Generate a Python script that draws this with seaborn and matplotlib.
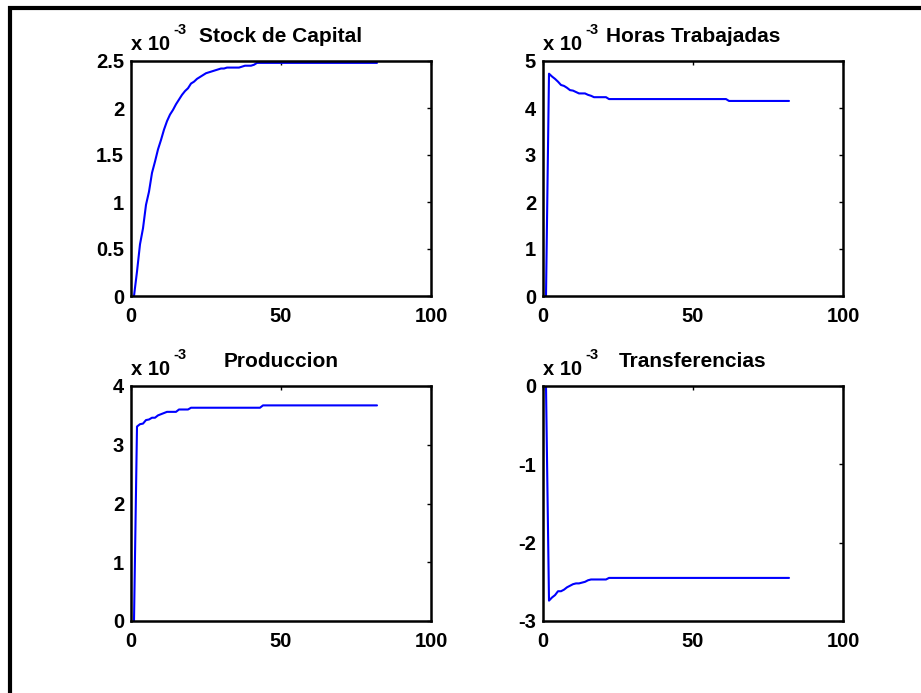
import numpy as np
import pandas as pd
import matplotlib
matplotlib.use("Agg")
import matplotlib.pyplot as plt
from matplotlib.lines import Line2D
import seaborn as sns

sns.set_style("white")
plt.rcParams["font.family"] = ["Liberation Sans", "DejaVu Sans"]
plt.rcParams["axes.unicode_minus"] = False
plt.rcParams["text.color"] = "black"
plt.rcParams["axes.labelcolor"] = "black"
plt.rcParams["xtick.color"] = "black"
plt.rcParams["ytick.color"] = "black"

# Impulse responses (deviations, in units of 10^-3), periods 1..82
periods = list(range(1, 83))

capital = [0.00, 0.26, 0.55, 0.72, 0.97, 1.11, 1.31, 1.43, 1.56, 1.66,
           1.77, 1.86, 1.93, 1.98, 2.04, 2.09, 2.14, 2.18, 2.21, 2.26,
           2.28, 2.31, 2.33, 2.35, 2.37, 2.38, 2.39, 2.40, 2.41, 2.42,
           2.42, 2.43, 2.43, 2.43, 2.43, 2.43, 2.44, 2.45, 2.45, 2.45,
           2.46, 2.48, 2.48, 2.48, 2.48, 2.48, 2.48, 2.48, 2.48, 2.48,
           2.48, 2.48, 2.48, 2.48, 2.48, 2.48, 2.48, 2.48, 2.48, 2.48,
           2.48, 2.48, 2.48, 2.48, 2.48, 2.48, 2.48, 2.48, 2.48, 2.48,
           2.48, 2.48, 2.48, 2.48, 2.48, 2.48, 2.48, 2.48, 2.48, 2.48,
           2.48, 2.48]

horas = [0.00, 4.73, 4.67, 4.62, 4.56, 4.49, 4.47, 4.43, 4.38, 4.37,
         4.34, 4.31, 4.31, 4.31, 4.28, 4.26, 4.23, 4.23, 4.23, 4.23,
         4.23, 4.19, 4.19, 4.19, 4.19, 4.19, 4.19, 4.19, 4.19, 4.19,
         4.19, 4.19, 4.19, 4.19, 4.19, 4.19, 4.19, 4.19, 4.19, 4.19,
         4.19, 4.19, 4.19, 4.19, 4.19, 4.19, 4.19, 4.19, 4.19, 4.19,
         4.19, 4.19, 4.19, 4.19, 4.19, 4.19, 4.19, 4.19, 4.19, 4.19,
         4.19, 4.15, 4.15, 4.15, 4.15, 4.15, 4.15, 4.15, 4.15, 4.15,
         4.15, 4.15, 4.15, 4.15, 4.15, 4.15, 4.15, 4.15, 4.15, 4.15,
         4.15, 4.15]

produccion = [0.00, 3.31, 3.35, 3.36, 3.42, 3.43, 3.46, 3.46, 3.50, 3.52,
              3.54, 3.56, 3.56, 3.56, 3.56, 3.60, 3.60, 3.60, 3.60, 3.63,
              3.63, 3.63, 3.63, 3.63, 3.63, 3.63, 3.63, 3.63, 3.63, 3.63,
              3.63, 3.63, 3.63, 3.63, 3.63, 3.63, 3.63, 3.63, 3.63, 3.63,
              3.63, 3.63, 3.63, 3.67, 3.67, 3.67, 3.67, 3.67, 3.67, 3.67,
              3.67, 3.67, 3.67, 3.67, 3.67, 3.67, 3.67, 3.67, 3.67, 3.67,
              3.67, 3.67, 3.67, 3.67, 3.67, 3.67, 3.67, 3.67, 3.67, 3.67,
              3.67, 3.67, 3.67, 3.67, 3.67, 3.67, 3.67, 3.67, 3.67, 3.67,
              3.67, 3.67]

transferencias = [0.00, -2.74, -2.70, -2.67, -2.62, -2.62, -2.60, -2.57, -2.55, -2.53,
                  -2.52, -2.52, -2.51, -2.50, -2.48, -2.47, -2.47, -2.47, -2.47, -2.47,
                  -2.47, -2.45, -2.45, -2.45, -2.45, -2.45, -2.45, -2.45, -2.45, -2.45,
                  -2.45, -2.45, -2.45, -2.45, -2.45, -2.45, -2.45, -2.45, -2.45, -2.45,
                  -2.45, -2.45, -2.45, -2.45, -2.45, -2.45, -2.45, -2.45, -2.45, -2.45,
                  -2.45, -2.45, -2.45, -2.45, -2.45, -2.45, -2.45, -2.45, -2.45, -2.45,
                  -2.45, -2.45, -2.45, -2.45, -2.45, -2.45, -2.45, -2.45, -2.45, -2.45,
                  -2.45, -2.45, -2.45, -2.45, -2.45, -2.45, -2.45, -2.45, -2.45, -2.45,
                  -2.45, -2.45]

titles = ["Stock de Capital", "Horas Trabajadas", "Produccion", "Transferencias"]
series = [capital, horas, produccion, transferencias]
yticks = [[0, 0.5, 1, 1.5, 2, 2.5], [0, 1, 2, 3, 4, 5], [0, 1, 2, 3, 4], [-3, -2, -1, 0]]
xticks = [0, 50, 100]
exponent = "-3"

W, H = 921, 693
fig = plt.figure(figsize=(W / 100, H / 100), dpi=100)
fig.patch.set_facecolor("white")

# axes boxes in pixels: left, top, right, bottom
boxes = [(131, 61, 431, 296), (543, 61, 843, 296),
         (131, 386, 431, 621), (543, 386, 843, 621)]

for (l, t, r, b), title, vals, yt in zip(boxes, titles, series, yticks):
    ax = fig.add_axes([l / W, 1 - b / H, (r - l) / W, (b - t) / H])
    df = pd.DataFrame({"periodo": periods, "valor": vals})
    sns.lineplot(data=df, x="periodo", y="valor", ax=ax, color="#0000ff",
                 linewidth=1.5, estimator=None)
    ax.set_xlim(0, 100)
    ax.set_ylim(yt[0], yt[-1])
    ax.set_xticks(xticks)
    ax.set_yticks(yt)
    ax.set_xticklabels([f"{v:g}" for v in xticks])
    ax.set_yticklabels([f"{v:g}" for v in yt])
    ax.set_xlabel("")
    ax.set_ylabel("")
    for s in ax.spines.values():
        s.set_visible(True)
        s.set_color("black")
        s.set_linewidth(1.8)
    ax.tick_params(direction="in", length=3, width=1, top=True, right=True,
                   labelsize=14.5, colors="black")
    ax.tick_params(axis="x", pad=8)
    ax.tick_params(axis="y", pad=5)
    for lab in ax.get_xticklabels() + ax.get_yticklabels():
        lab.set_fontweight("bold")
    ax.set_title(title, fontsize=15, fontweight="bold", pad=14, color="black")
    ax.text(0.0, 1.045, "x 10", transform=ax.transAxes, ha="left", va="baseline",
            fontsize=14.5, fontweight="bold")
    ax.text(0.14, 1.115, exponent, transform=ax.transAxes, ha="left", va="baseline",
            fontsize=10.5, fontweight="bold")

# outer frame lines (left and top)
fig.add_artist(Line2D([10 / W, 10 / W], [0, 1 - 6 / H], transform=fig.transFigure,
                      color="black", linewidth=3, solid_capstyle="butt"))
fig.add_artist(Line2D([8 / W, 1], [1 - 8 / H, 1 - 8 / H], transform=fig.transFigure,
                      color="black", linewidth=3, solid_capstyle="butt"))

fig.savefig("out.png", dpi=100)
